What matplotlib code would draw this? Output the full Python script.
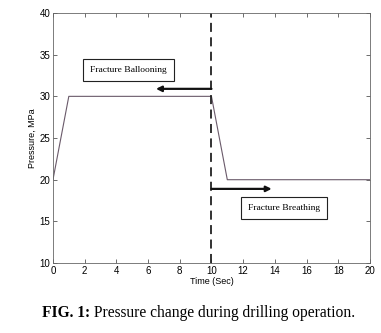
import matplotlib.pyplot as plt
from matplotlib import rcParams

# pressure history during the drilling step
time_s = [0, 1, 10, 11, 20]
pressure_mpa = [20, 30, 30, 20, 20]
switch_time = 10
xticks = [0, 2, 4, 6, 8, 10, 12, 14, 16, 18, 20]
yticks = [10, 15, 20, 25, 30, 35, 40]

rcParams.update({'font.family': 'Liberation Sans', 'font.size': 7})

fig = plt.figure(figsize=(3.81, 3.33), dpi=100)
ax = fig.add_axes([0.139, 0.21, 0.832, 0.751])

ax.plot(time_s, pressure_mpa, '-', color='#6a5a6a', linewidth=0.8)
ax.axvline(switch_time, color='#222222', linestyle=(0, (5, 3)), linewidth=1.3)

ax.set_xlim(0, 20)
ax.set_ylim(10, 40)
ax.set_xticks(xticks)
ax.set_yticks(yticks)
ax.tick_params(direction='in', length=3, width=0.6, top=True, right=True,
               pad=2, labelsize=7, color='#555555')
for s in ax.spines.values():
	s.set_linewidth(0.6)
	s.set_color('#666666')
ax.set_xlabel('Time (Sec)', fontsize=6.5, labelpad=1)
ax.set_ylabel('Pressure, MPa', fontsize=6.5, labelpad=2)

arrow = dict(arrowstyle='-|>', color='#111111', lw=1.6, mutation_scale=8,
             shrinkA=0, shrinkB=0)
ax.annotate('', xy=(6.5, 30.9), xytext=(switch_time, 30.9), arrowprops=arrow)
ax.annotate('', xy=(13.8, 18.9), xytext=(switch_time, 18.9), arrowprops=arrow)

box = dict(boxstyle='square,pad=0.75', facecolor='white', edgecolor='#222222', linewidth=0.8)
ax.text(4.76, 33.2, 'Fracture Ballooning', family='Liberation Serif', fontsize=6.8,
        ha='center', va='center', bbox=box)
ax.text(14.57, 16.6, 'Fracture Breathing', family='Liberation Serif', fontsize=6.8,
        ha='center', va='center', bbox=box)

# caption: bold figure number followed by plain text
cap = fig.text(0.110, 0.060, 'FIG. 1:', family='Liberation Serif', fontsize=11.2,
               fontweight='bold', ha='left', va='center')
ax.annotate(' Pressure change during drilling operation.', xy=(1, 0.5), xycoords=cap,
            family='Liberation Serif', fontsize=11.2, ha='left', va='center',
            annotation_clip=False)

plt.savefig('out.png', dpi=100)
